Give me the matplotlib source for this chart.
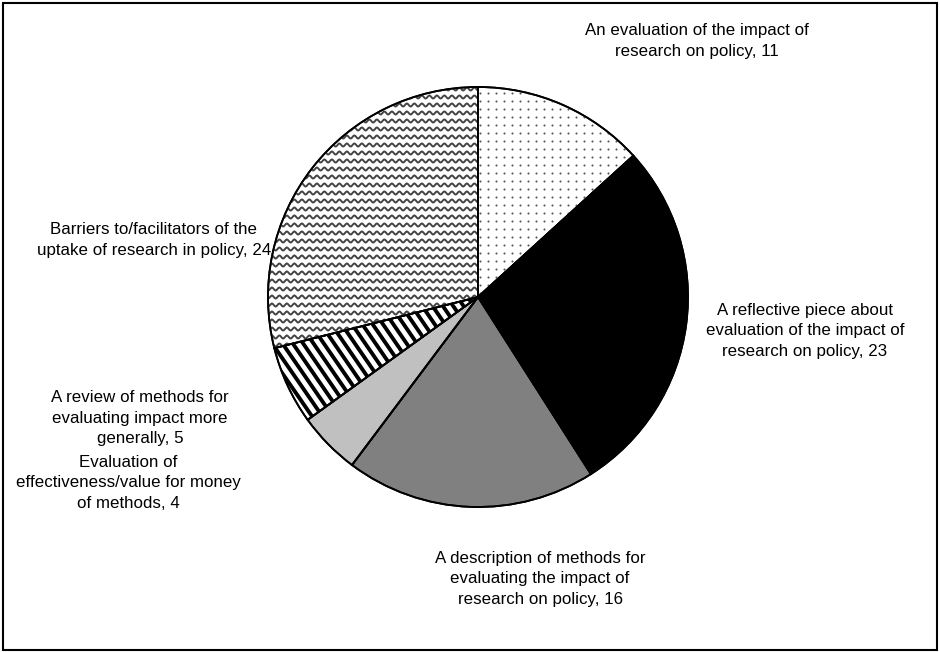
import matplotlib.pyplot as plt
import numpy as np
from matplotlib.patches import Rectangle, Wedge

plt.rcParams['font.family'] = ['Liberation Sans', 'DejaVu Sans']

# Number of publications per category
labels = ['An evaluation of the impact of\nresearch on policy',
          'A reflective piece about\nevaluation of the impact of\nresearch on policy',
          'A description of methods for\nevaluating the impact of\nresearch on policy',
          'Evaluation of\neffectiveness/value for money\nof methods',
          'A review of methods for\nevaluating impact more\ngenerally',
          'Barriers to/facilitators of the\nuptake of research in policy']
counts = [11, 23, 16, 4, 5, 24]
fills = ['white', 'black', '#808080', '#c0c0c0', 'white', 'white']
label_pos = [(697, 611), (805, 321), (540, 73), (128, 169), (140, 234), (154, 412)]

W, H = 940, 652
cx, cy, r = 478, 355, 210

fig = plt.figure(figsize=(W / 100, H / 100), dpi=100)
ax = fig.add_axes([0, 0, 1, 1])

wedges, _ = ax.pie(counts, colors=fills, startangle=90, counterclock=False,
                   center=(cx, cy), radius=r, frame=True,
                   wedgeprops=dict(edgecolor='black', linewidth=1.3))
ax.set_xlim(0, W)
ax.set_ylim(0, H)
ax.set_aspect('equal')
ax.axis('off')

# dotted fill for the first slice
gx, gy = np.meshgrid(np.arange(cx + 2, cx + r, 8), np.arange(cy - 20, cy + r, 8))
dots = ax.scatter(gx.ravel(), gy.ravel(), s=2.2, color='#555555', linewidths=0,
                  zorder=3)
dots.set_clip_path(wedges[0])

# diagonal stripes for the "review of methods" slice
w = wedges[4]
xs = np.array([cx - r - 50, cx + 50])
for off in np.arange(-900, 900, 15):
    ln, = ax.plot(xs, -1.45 * (xs - cx) + cy + off, color='black', lw=2.8,
                  solid_capstyle='butt', zorder=3)
    ln.set_clip_path(w)

# wavy lines for the "barriers" slice
w = wedges[5]
xw = np.linspace(cx - r - 10, cx + 10, 800)
for yb in np.arange(cy - 120, cy + r + 10, 8):
    ln, = ax.plot(xw, yb + 1.5 * np.sin(2 * np.pi * xw / 7.5), color='#444444',
                  lw=1.4, zorder=3)
    ln.set_clip_path(w)

# redraw wedge outlines above the patterns
for wd in wedges:
    ax.add_patch(Wedge(wd.center, wd.r, wd.theta1, wd.theta2,
                       facecolor='none', edgecolor='black',
                       linewidth=1.3, zorder=4))

for lab, n, (x, y) in zip(labels, counts, label_pos):
    ax.text(x, y, f'{lab}, {n}', ha='center', va='center', fontsize=12.2,
            linespacing=1.42)

# outer frame
ax.add_patch(Rectangle((3, 2), W - 6, H - 5, fill=False, edgecolor='black',
                       linewidth=1.5, zorder=5))

fig.savefig('out.png', dpi=100)
